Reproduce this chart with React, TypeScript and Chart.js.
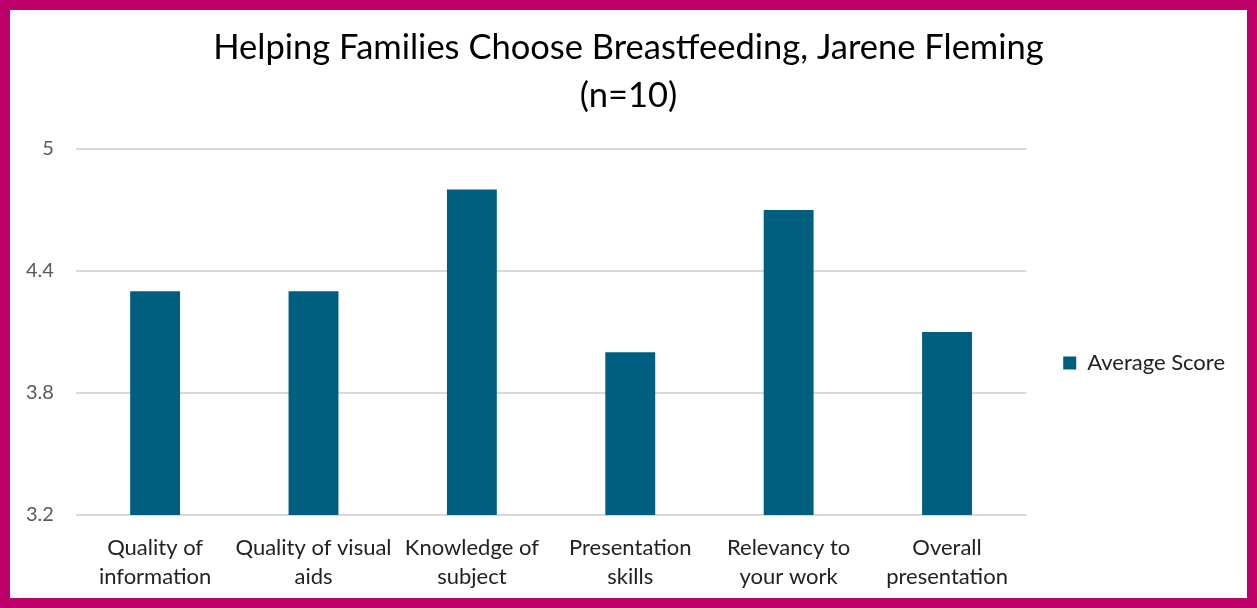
import React, { useEffect, useRef } from "react";
import { Chart, registerables } from "chart.js";

Chart.register(...registerables);

const categories: string[][] = [
  ["Quality of", "information"],
  ["Quality of visual", "aids"],
  ["Knowledge of", "subject"],
  ["Presentation", "skills"],
  ["Relevancy to", "your work"],
  ["Overall", "presentation"],
];
const averageScore: number[] = [4.3, 4.3, 4.8, 4.0, 4.7, 4.1];
const yTicks: number[] = [3.2, 3.8, 4.4, 5];
const titleLines: string[] = ["Helping Families Choose Breastfeeding, Jarene Fleming", "(n=10)"];
const seriesName = "Average Score";

const layoutTweaks = {
  id: "layoutTweaks",
  afterLayout(chart: any) {
    const lg = chart.legend;
    if (lg) {
      const ca = chart.chartArea;
      const target = ca.top + (ca.bottom - ca.top) * 0.585;
      const cur = (lg.top + lg.bottom) / 2;
      const d = target - cur;
      lg.top += d;
      lg.bottom += d;
    }
    const tb = chart.titleBlock;
    if (tb) {
      tb.left = 0;
      tb.right = chart.width;
    }
  },
};

export default function App() {
  const ref = useRef<HTMLCanvasElement | null>(null);
  useEffect(() => {
    document.body.style.margin = "0";
    const font = "Lato, 'Open Sans', sans-serif";
    const chart = new Chart(ref.current!, {
      type: "bar",
      data: {
        labels: categories,
        datasets: [
          {
            label: seriesName,
            data: averageScore,
            backgroundColor: "#005F7F",
            barPercentage: 0.315,
            categoryPercentage: 1,
          },
        ],
      },
      plugins: [layoutTweaks],
      options: {
        animation: false,
        responsive: true,
        maintainAspectRatio: false,
        layout: { padding: { left: -6, right: 12, top: 0, bottom: -3 } },
        plugins: {
          title: {
            display: true,
            text: titleLines,
            color: "#000000",
            font: { family: font, size: 34.5, weight: "normal", lineHeight: 1.39 },
            padding: { top: 14, bottom: 29 },
          },
          legend: {
            position: "right",
            labels: {
              color: "#222222",
              font: { family: font, size: 22 },
              boxWidth: 13,
              boxHeight: 13,
              padding: 37,
            },
          },
          tooltip: { enabled: false },
        },
        scales: {
          x: {
            grid: { display: false },
            border: { display: false },
            ticks: {
              color: "#222222",
              font: { family: font, size: 22, lineHeight: 1.32 },
              maxRotation: 0,
              autoSkip: false,
              padding: 10,
            },
          },
          y: {
            min: 3.2,
            max: 5,
            afterBuildTicks: (axis: any) => {
              axis.ticks = yTicks.map((v) => ({ value: v }));
            },
            grid: { color: "#D9D9D9", lineWidth: 2, drawTicks: false },
            border: { display: false },
            ticks: {
              color: "#595959",
              font: { family: font, size: 20 },
              padding: 22,
              callback: (v: any) => String(Number(Number(v).toFixed(1))),
            },
          },
        },
      },
    });
    return () => chart.destroy();
  }, []);
  return (
    <div
      style={{
        position: "absolute",
        left: 0,
        top: 0,
        width: 1257,
        height: 608,
        boxSizing: "border-box",
        border: "10px solid #BE006B",
        background: "#FFFFFF",
      }}
    >
      <div style={{ position: "relative", width: 1237, height: 588 }}>
        <canvas ref={ref} />
      </div>
    </div>
  );
}
